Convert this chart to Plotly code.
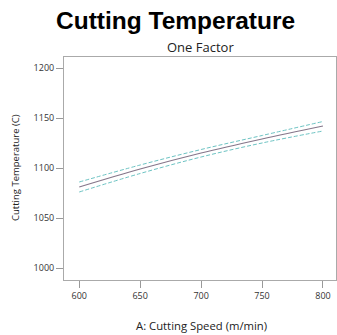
import plotly.graph_objects as go

# Cutting speed (m/min) and predicted cutting temperature with confidence band
speed = [600, 650, 700, 750, 800]
temp_pred = [1081, 1099, 1115, 1129, 1142]
temp_upper = [1086, 1103, 1118.5, 1132.5, 1146.5]
temp_lower = [1076, 1094.5, 1111, 1125, 1137]

y_ticks = [1000, 1050, 1100, 1150, 1200]
x_ticks = [600, 650, 700, 750, 800]

band_color = "#6cc3c3"
line_color = "#85768a"

fig = go.Figure()
fig.add_trace(go.Scatter(x=speed, y=temp_upper, mode="lines", line=dict(color=band_color, width=1, dash="4px,2px", shape="spline")))
fig.add_trace(go.Scatter(x=speed, y=temp_pred, mode="lines", line=dict(color=line_color, width=1.2, shape="spline")))
fig.add_trace(go.Scatter(x=speed, y=temp_lower, mode="lines", line=dict(color=band_color, width=1, dash="4px,2px", shape="spline")))

axis_font = dict(family="Open Sans", size=9, color="#333333")

fig.update_layout(
    width=337, height=335,
    margin=dict(l=64, r=1, t=57, b=55),
    paper_bgcolor="white", plot_bgcolor="white",
    showlegend=False,
    xaxis=dict(
        range=[587.5, 810.7], tickvals=x_ticks, ticks="outside", ticklen=7, tickcolor="#999999",
        showline=True, linecolor="#aaaaaa", linewidth=1, mirror=True, showgrid=False, zeroline=False,
        tickfont=axis_font,
    ),
    yaxis=dict(
        range=[988, 1211], tickvals=y_ticks, ticks="outside", ticklen=7, tickcolor="#999999",
        showline=True, linecolor="#aaaaaa", linewidth=1, mirror=True, showgrid=False, zeroline=False,
        tickfont=axis_font,
    ),
    annotations=[
        dict(text="<b>Cutting Temperature</b>", x=175, y=21, showarrow=False,
             font=dict(family="Liberation Sans, Arial", size=24.5, color="black")),
        dict(text="One Factor", x=200, y=47, showarrow=False,
             font=dict(family="Open Sans", size=13, color="#222222")),
        dict(text="A: Cutting Speed (m/min)", x=201, y=325, showarrow=False,
             font=dict(family="Open Sans", size=11.3, color="#222222")),
        dict(text="Cutting Temperature (C)", x=15, y=168, showarrow=False, textangle=-90,
             font=dict(family="Open Sans", size=9.5, color="#222222")),
    ],
)

# annotations positioned in pixels: convert to paper coordinates
W, H = 337, 335
l, r, t, b = 64, 1, 57, 55
pw, ph = W - l - r, H - t - b
new_ann = []
for a in fig.layout.annotations:
    px, py = a.x, a.y
    a.xref = "paper"
    a.yref = "paper"
    a.x = (px - l) / pw
    a.y = (H - b - py) / ph
    a.xanchor = "center"
    a.yanchor = "middle"
    new_ann.append(a)
fig.layout.annotations = new_ann

fig.write_html("out.html")
